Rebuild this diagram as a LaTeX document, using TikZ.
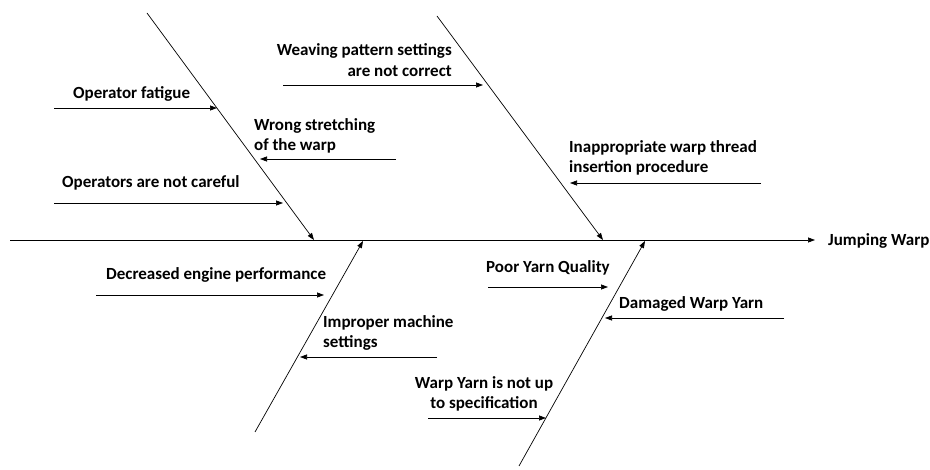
\documentclass[tikz,border=0pt]{standalone}
\usepackage{fontspec}
\setmainfont{Carlito}
\usetikzlibrary{arrows.meta}

\begin{document}
\begin{tikzpicture}[x=1pt,y=-1pt,
	bone/.style={draw, line width=0.7pt, -{Triangle[length=7pt,width=5pt]}},
	cause/.style={font=\fontsize{17}{20.5}\selectfont\bfseries, inner sep=0pt}]
\useasboundingbox (0,0) rectangle (930,470);

%----------------------------
% Spine: head is the effect
%----------------------------
\coordinate (tail) at (10,240);
\coordinate (head) at (815,240);
\node[cause, anchor=west] (effect) at (828,241) {Jumping Warp};
\draw[bone] (tail) -- (head);

%----------------------------
% Main bones
%----------------------------
\coordinate (b1top) at (147,13);  \coordinate (b1end) at (314,240);
\coordinate (b2top) at (437,16);  \coordinate (b2end) at (603,240);
\coordinate (b3bot) at (255,432); \coordinate (b3end) at (363,241);
\coordinate (b4bot) at (519,466); \coordinate (b4end) at (645,241);
\draw[bone] (b1top) -- (b1end);
\draw[bone] (b2top) -- (b2end);
\draw[bone] (b3bot) -- (b3end);
\draw[bone] (b4bot) -- (b4end);

%----------------------------
% Upper left bone
%----------------------------
\node[cause, anchor=west] (fatigue) at (73,94) {Operator fatigue};
\coordinate (c1s) at (54,108); \coordinate (c1e) at (217,108);
\draw[bone] (c1s) -- (c1e);

\node[cause, anchor=west, align=left] (stretch) at (254,136) {Wrong stretching\\of the warp};
\coordinate (c2s) at (396,159); \coordinate (c2e) at (260,159);
\draw[bone] (c2s) -- (c2e);

\node[cause, anchor=west] (careful) at (62,183) {Operators are not careful};
\coordinate (c3s) at (54,203); \coordinate (c3e) at (283,203);
\draw[bone] (c3s) -- (c3e);

%----------------------------
% Upper right bone
%----------------------------
\node[cause, anchor=east, align=right] (pattern) at (452,60) {Weaving pattern settings\\are not correct};
\coordinate (c4s) at (283,85); \coordinate (c4e) at (483,85);
\draw[bone] (c4s) -- (c4e);

\node[cause, anchor=west, align=left] (insert) at (569,158) {Inappropriate warp thread\\insertion procedure};
\coordinate (c5s) at (761,183); \coordinate (c5e) at (570,183);
\draw[bone] (c5s) -- (c5e);

%----------------------------
% Lower left bone
%----------------------------
\node[cause, anchor=west] (engine) at (106,275) {Decreased engine performance};
\coordinate (c6s) at (96,295); \coordinate (c6e) at (324,295);
\draw[bone] (c6s) -- (c6e);

\node[cause, anchor=west, align=left] (machine) at (323,333) {Improper machine\\settings};
\coordinate (c7s) at (437,357); \coordinate (c7e) at (300,357);
\draw[bone] (c7s) -- (c7e);

%----------------------------
% Lower right bone
%----------------------------
\node[cause, anchor=west] (quality) at (486,268) {Poor Yarn Quality};
\coordinate (c8s) at (488,287); \coordinate (c8e) at (608,287);
\draw[bone] (c8s) -- (c8e);

\node[cause, anchor=west] (damaged) at (619,304) {Damaged Warp Yarn};
\coordinate (c9s) at (784,318); \coordinate (c9e) at (605,318);
\draw[bone] (c9s) -- (c9e);

\node[cause, align=center] (spec) at (484,394) {Warp Yarn is not up\\to specification};
\coordinate (c10s) at (428,418); \coordinate (c10e) at (546,418);
\draw[bone] (c10s) -- (c10e);

\end{tikzpicture}
\end{document}
